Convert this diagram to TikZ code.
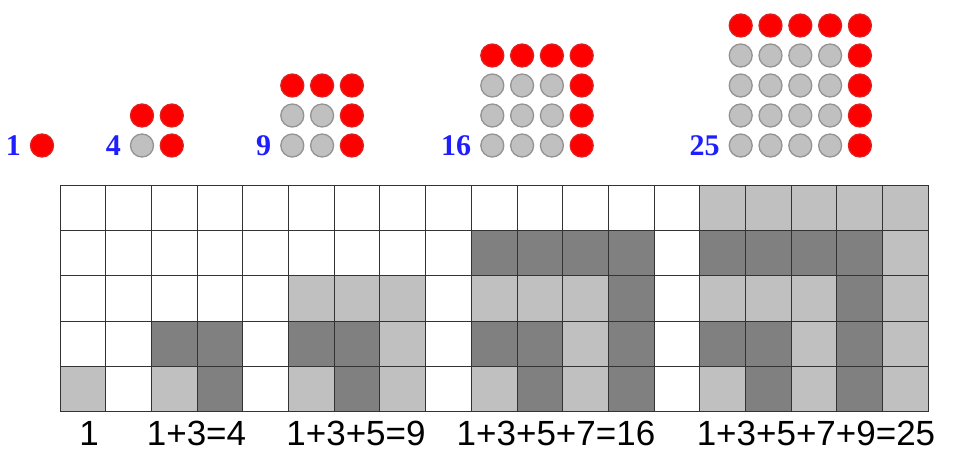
\documentclass[tikz,border=0pt]{standalone}
\usepackage{fontspec}
\usepackage{tikz}
\usepackage{xcolor}
\newfontfamily\sumfont{Liberation Sans}
\newfontfamily\numfont{Liberation Serif}
\definecolor{numblue}{RGB}{30,30,255}
\definecolor{lightcell}{RGB}{192,192,192}
\definecolor{darkcell}{RGB}{128,128,128}
\definecolor{dotgray}{RGB}{192,192,192}
\tikzset{
  dot/.style={circle, minimum size=23pt, inner sep=0pt, line width=1.3pt},
  reddot/.style={dot, fill=red, draw=red!75!gray},
  graydot/.style={dot, fill=dotgray, draw=gray!85},
  sqnum/.style={anchor=base east, text=numblue, font=\numfont\bfseries\fontsize{30}{32}\selectfont, inner sep=0pt},
  sumlabel/.style={anchor=base, font=\sumfont\fontsize{35}{38}\selectfont, inner sep=0pt},
  gridline/.style={line width=0.9pt, draw=black!80}
}

\begin{document}
\begin{tikzpicture}[x=1pt, y=-1pt]
  \useasboundingbox (0,0) rectangle (957,450);
  % square arrays of dots
  \foreach \n/\bx in {1/42, 2/142, 3/292.3, 4/492.3, 5/740.7} {
    \foreach \i in {1,...,\n} {
      \foreach \j in {1,...,\n} {
        \pgfmathtruncatemacro\isred{(\i==\n)||(\j==\n)}
        \ifnum\isred=1 \def\kind{reddot}\else\def\kind{graydot}\fi
        \node[\kind] (d\n-\i-\j) at ({\bx+(\i-1)*29.8},{145.5-(\j-1)*30}) {};
      }
    }
    \pgfmathtruncatemacro\sq{\n*\n}
    \node[sqnum] (num\n) at ({\bx-21},155.5) {\sq};
  }
  % shaded cells
  \foreach \c/\r in {1/5, 3/5, 6/3, 6/5, 7/3, 8/3, 8/4, 8/5, 10/3, 10/5, 11/3, 12/3, 12/4, 12/5,
      15/1, 15/3, 15/5, 16/1, 16/3, 17/1, 17/3, 17/4, 17/5, 18/1, 19/1, 19/2, 19/3, 19/4, 19/5}
    \fill[lightcell] ({60+(\c-1)*45.7},{185+(\r-1)*45.34}) rectangle ++(45.7,45.34);
  \foreach \c/\r in {3/4, 4/4, 4/5, 6/4, 7/4, 7/5, 10/2, 10/4, 11/2, 11/4, 11/5, 12/2,
      13/2, 13/3, 13/4, 13/5, 15/2, 15/4, 16/2, 16/4, 16/5, 17/2, 18/2, 18/3, 18/4, 18/5}
    \fill[darkcell] ({60+(\c-1)*45.7},{185+(\r-1)*45.34}) rectangle ++(45.7,45.34);
  % grid
  \foreach \i in {0,...,19}
    \draw[gridline] ({60+\i*45.7},185) -- ++(0,226.7);
  \foreach \j in {0,...,5}
    \draw[gridline] (60,{185+\j*45.34}) -- ++(868.3,0);
  % sums
  \node[sumlabel] (sum1) at (89,445) {1};
  \node[sumlabel] (sum4) at (196.5,445) {1+3=4};
  \node[sumlabel] (sum9) at (356,445) {1+3+5=9};
  \node[sumlabel] (sum16) at (556,445) {1+3+5+7=16};
  \node[sumlabel] (sum25) at (816,445) {1+3+5+7+9=25};
\end{tikzpicture}
\end{document}
